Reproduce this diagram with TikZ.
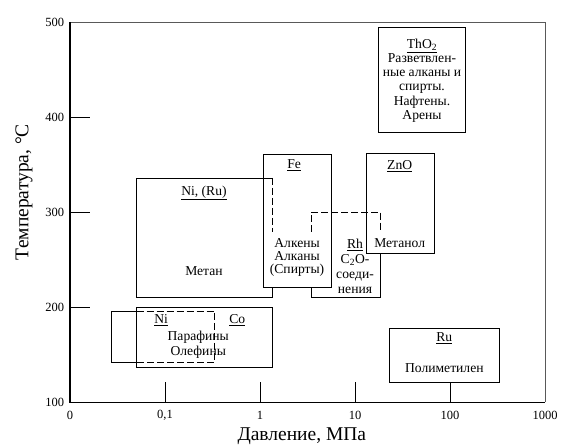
\documentclass[tikz,border=0pt]{standalone}
\usepackage{fontspec}
\setmainfont{Liberation Serif}
\usetikzlibrary{calc}

\tikzset{
	zone/.style={draw=black, line width=0.6pt},
	hidden/.style={zone, dash pattern=on 7pt off 3pt},
	zonetext/.style={font=\fontsize{13.6}{14.2}\selectfont, align=center, inner sep=0pt},
	ticklabel/.style={font=\fontsize{12.5}{14}\selectfont, inner sep=1pt},
	axislabel/.style={font=\fontsize{19.5}{22}\selectfont, inner sep=0pt}
}

\begin{document}
\begin{tikzpicture}[x=95pt, y=0.95pt]
		\useasboundingbox (-0.737,53.7) rectangle (5.168,523.2);
		
		%Frame
		\coordinate (o) at (0,100);
		\coordinate (xend) at (5,100);
		\coordinate (yend) at (0,500);
		\draw[black!65, line width=0.7pt] (yend) -- (5,500) -- (xend);
		\draw[line width=1.1pt] (yend) -- (o) -- (xend);
		
		% Ticks
		\foreach \t in {200,300,400}
		\draw[line width=0.8pt] (0,\t) -- ++(0.21,0);
		\foreach \u in {1,2,3,4}
		\draw[line width=0.8pt] (\u,100) -- ++(0,21);
		
		% Tick labels
		\foreach \t in {100,200,...,500}
		\node[ticklabel, anchor=east] (t\t) at (-0.05,\t) {\t};
		\foreach \u/\lab in {0/0, 1/{0,1}, 2/1, 3/10, 4/100, 5/1000}
		\node[ticklabel] (p\u) at (\u,86) {\lab};
		
		% Axis labels
		\node[axislabel, rotate=90] (ylab) at (-0.485,321) {Температура, °C};
		\node[axislabel] (xlab) at (2.44,64.5) {Давление, МПа};
		
		% Ni, (Ru) zone
		\coordinate (nirSW) at (0.7,210);
		\coordinate (nirNE) at (2.13,336);
		\draw[zone] (2.13,221) |- (nirSW) |- (nirNE);
		\draw[hidden] (nirNE) -- (2.13,279);
		
		% Fe zone
		\draw[zone] (2.03,221) rectangle (2.75,361);
		
		% Rh zone
		\coordinate (rhSW) at (2.54,210);
		\coordinate (rhNE) at (3.27,300);
		\draw[zone] (2.54,221) -- (rhSW) -| (3.27,257);
		\draw[hidden] (2.54,279) |- (rhNE) -- (3.27,279);
		
		% ZnO zone
		\draw[zone] (3.12,257) rectangle (3.83,362);
		
		% ThO2 zone
		\draw[zone] (3.25,384) rectangle (4.16,494);
		
		% Ru zone
		\draw[zone] (3.36,121) rectangle (4.52,178);
		
		% Co zone
		\draw[zone] (0.7,137) rectangle (2.13,200);
		
		% Ni zone
		\coordinate (niNW) at (0.43,196);
		\coordinate (niSE) at (1.52,142);
		\draw[zone] (0.7,196) -- (niNW) |- (0.7,142);
		\draw[hidden] (0.7,196) -| (niSE) -- (0.7,142);
		
		% Zone labels
		\node[zonetext] (nir) at (1.41,320) {\underline{Ni, (Ru)}};
		\node[zonetext] (methane) at (1.41,238) {Метан};
		\node[zonetext] (fe) at (2.36,349) {\underline{Fe}};
		\node[zonetext, font=\fontsize{13.6}{12.8}\selectfont] (feprod) at (2.39,252.5) {Алкены\\Алканы\\(Спирты)};
		\node[zonetext, font=\fontsize{13.6}{15}\selectfont] (rh) at (3.0,243) {\underline{Rh}\\C\textsubscript{2}O-\\соеди-\\нения};
		\node[zonetext] (zno) at (3.47,348.5) {\underline{ZnO}};
		\node[zonetext] (methanol) at (3.47,267.4) {Метанол};
		\node[zonetext] (tho) at (3.705,438.4) {\underline{ThO\textsubscript{2}}\\Разветвлен-\\ные алканы и\\спирты.\\Нафтены.\\Арены};
		\node[zonetext] (ru) at (3.94,167) {\underline{Ru}};
		\node[zonetext] (polymethylene) at (3.94,136) {Полиметилен};
		\node[zonetext] (ni) at (0.96,186.3) {\underline{Ni}};
		\node[zonetext] (co) at (1.76,186.3) {\underline{Co}};
		\node[zonetext, font=\fontsize{13.6}{15}\selectfont] (ft) at (1.35,160.5) {Парафины\\Олефины};
	\end{tikzpicture}
\end{document}
